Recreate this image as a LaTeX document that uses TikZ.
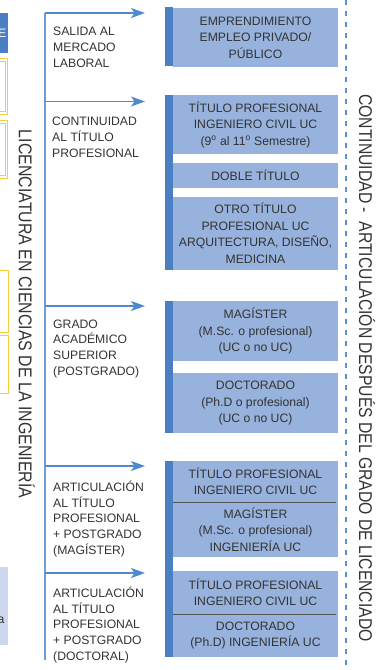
\documentclass[tikz,border=0pt]{standalone}
\usepackage{fontspec}
\setmainfont{Liberation Sans}
\usetikzlibrary{arrows.meta}
\definecolor{stripb}{HTML}{4A80C1}
\definecolor{lightb}{HTML}{97B2DC}
\definecolor{paleb}{HTML}{CDD8EE}
\definecolor{arrowb}{HTML}{5089CC}
\definecolor{spineb}{HTML}{6F9BD5}
\definecolor{dashb}{HTML}{5B8FD3}
\definecolor{txt}{HTML}{333333}
\definecolor{gold}{HTML}{F4CF3A}
\definecolor{divg}{HTML}{555555}
\begin{document}
\begin{tikzpicture}[x=1pt,y=-1pt,
  lbl/.style={anchor=base west, align=left, inner sep=0pt, text=txt, font=\fontsize{12.2}{15.8}\selectfont},
  lbox/.style={fill=lightb, minimum width=165pt, inner sep=0pt, text=txt, align=center, font=\fontsize{12.2}{16.5}\selectfont},
  arr/.style={draw=arrowb, line width=1.3pt, -{Stealth[length=14pt,width=10pt,inset=3.5pt]}},
  spine/.style={draw=spineb, line width=1.2pt},
  vtext/.style={rotate=-90, anchor=base, inner sep=0pt, text=txt, font=\fontsize{18.5}{20}\selectfont},
  divline/.style={draw=divg, line width=1pt}
]
\useasboundingbox (0,0) rectangle (376,670);

% left edge fragments
\fill[stripb] (-2,13) rectangle (8,53);
\node[anchor=base east, inner sep=0pt, text=white, font=\fontsize{12.2}{14}\selectfont] (frE) at (6.5,37.5) {E};
\draw[gold, line width=1pt] (-3,58.5) rectangle (7.3,114.5);
\draw[gold, line width=0.8pt] (-3,61.8) rectangle (5.5,111.3);
\draw[gold, line width=1pt] (-3,120.5) rectangle (7.3,178.5);
\draw[gold, line width=0.8pt] (-3,123.8) rectangle (5.5,175.3);
\draw[gold, line width=1pt] (-3,270) rectangle (8.3,332);
\draw[gold, line width=1pt] (-3,335) rectangle (8.3,393);
\fill[paleb] (-2,567) rectangle (8,645);
\node[anchor=base east, inner sep=0pt, text=txt, font=\fontsize{12.2}{14}\selectfont] (fra) at (4.5,623) {a};

% vertical titles
\node[vtext] (lic) at (19,314) {\scalebox{0.86}[1]{LICENCIATURA EN CIENCIAS DE LA INGENIERÍA}};
\node[vtext] (cont) at (359,368) {\scalebox{0.85}[1]{CONTINUIDAD -\ \ ARTICULACIÓN DESPUÉS DEL GRADO DE LICENCIADO}};

% dashed separator
\draw[dashb, line width=1.3pt, dash pattern=on 5pt off 6pt] (346,0) -- (346,670);

% spine and arrows
\coordinate (top) at (45,13);
\coordinate (bot) at (45,660);
\draw[spine] (top) -- (bot);
\coordinate (s1) at (45,13);   \coordinate (t1) at (145,13);
\coordinate (s2) at (45,101.5);  \coordinate (t2) at (145,101.5);
\coordinate (s3) at (45,306);  \coordinate (t3) at (145,306);
\coordinate (s4) at (45,466);  \coordinate (t4) at (145,466);
\coordinate (s5) at (45,573);  \coordinate (t5) at (145,573);
\draw[arr] (s1) -- (t1);
\draw[arr] (s2) -- (t2);
\draw[arr] (s3) -- (t3);
\draw[arr] (s4) -- (t4);
\draw[arr] (s5) -- (t5);

% labels (anchored at baseline of last line)
\node[lbl] (l1) at (53,67.4) {SALIDA AL\\MERCADO\\LABORAL};
\node[lbl] (l2) at (52,157.4) {CONTINUIDAD\\AL TÍTULO\\PROFESIONAL};
\node[lbl] (l3) at (53,375.4) {GRADO\\ACADÉMICO\\SUPERIOR\\(POSTGRADO)};
\node[lbl] (l4) at (53,554.4) {ARTICULACIÓN\\AL TÍTULO\\PROFESIONAL\\+ POSTGRADO\\(MAGÍSTER)};
\node[lbl] (l5) at (53,660.4) {ARTICULACIÓN\\AL TÍTULO\\PROFESIONAL\\+ POSTGRADO\\(DOCTORAL)};

% strips
\fill[stripb] (165,7) rectangle (173,66);
\fill[stripb] (165,95) rectangle (173,270);
\fill[stripb] (165,301) rectangle (173,433);
\fill[stripb] (165,461) rectangle (173,657);

% boxes
\node[lbox, minimum height=59pt] (emp) at (255.5,37.5) {EMPRENDIMIENTO\\EMPLEO PRIVADO/\\PÚBLICO};
\node[lbox, minimum height=59pt] (tit) at (255.5,124.5) {TÍTULO PROFESIONAL\\INGENIERO CIVIL UC\\(9\textsuperscript{o} al 11\textsuperscript{o} Semestre)};
\node[lbox, minimum height=25pt] (doble) at (255.5,175.5) {DOBLE TÍTULO};
\node[lbox, minimum height=73pt] (otro) at (255.5,233.5) {OTRO TÍTULO\\PROFESIONAL UC\\ARQUITECTURA, DISEÑO,\\MEDICINA};
\node[lbox, minimum height=60pt] (mag) at (255.5,331) {MAGÍSTER\\(M.Sc. o profesional)\\(UC o no UC)};
\node[lbox, minimum height=60pt] (doc) at (255.5,403) {DOCTORADO\\(Ph.D o profesional)\\(UC o no UC)};
\node[lbox, minimum height=41pt] (amTop) at (255.5,481.5) {TÍTULO PROFESIONAL\\INGENIERO CIVIL UC};
\node[lbox, minimum height=55pt] (amBot) at (255.5,529.5) {MAGÍSTER\\(M.Sc. o profesional)\\INGENIERÍA UC};
\node[lbox, minimum height=43pt] (adTop) at (255.5,592.5) {TÍTULO PROFESIONAL\\INGENIERO CIVIL UC};
\node[lbox, minimum height=43pt] (adBot) at (255.5,635.5) {DOCTORADO\\(Ph.D) INGENIERÍA UC};
\draw[divline] (amTop.south west) -- ([xshift=-2pt]amTop.south east);
\draw[divline] (adTop.south west) -- ([xshift=-2pt]adTop.south east);
\end{tikzpicture}
\end{document}
